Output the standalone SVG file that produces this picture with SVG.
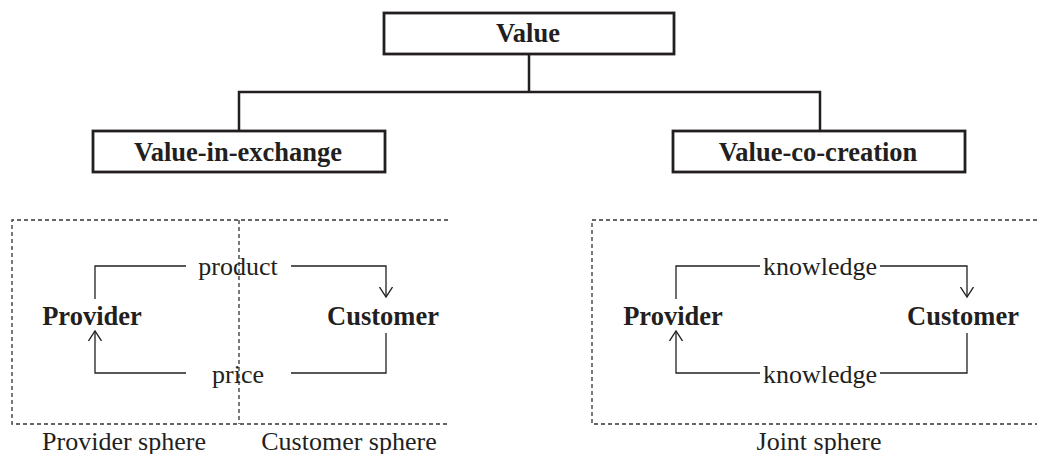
<svg xmlns="http://www.w3.org/2000/svg" width="1037" height="454" viewBox="0 0 1037 454">
<defs>
<style>
.box{fill:#fff;stroke:#231f20;stroke-width:2.8}
.tb{font-family:"Liberation Serif",serif;font-weight:bold;font-size:26.5px;fill:#231f20;text-anchor:middle}
.tr{font-family:"Liberation Serif",serif;font-size:26px;fill:#231f20;text-anchor:middle}
.tn{font-family:"Liberation Serif",serif;font-weight:bold;font-size:26.5px;fill:#231f20;text-anchor:middle}
.tree{fill:none;stroke:#231f20;stroke-width:2.5}
.flow{fill:none;stroke:#231f20;stroke-width:1.3}
.dash{fill:none;stroke:#333;stroke-width:1.3;stroke-dasharray:4 3}
</style>
<marker id="arr" viewBox="0 0 12 14" refX="10" refY="7" markerWidth="12" markerHeight="14" markerUnits="userSpaceOnUse" orient="auto">
<path d="M0,0.5 L10,7 L0,13.5" fill="none" stroke="#231f20" stroke-width="1.3"/>
</marker>
</defs>
<rect width="1037" height="454" fill="#fff"/>
<g id="connectors">
<path class="tree" d="M529,54 V92 M239,131 V92 H820 V131"/>
<path class="flow" d="M95,299 V266 H186 M291,266 H386 V297" marker-end="url(#arr)"/>
<path class="flow" d="M386,333 V373 H291 M186,373 H95 V331" marker-end="url(#arr)"/>
<path class="flow" d="M676,299 V266 H760 M880,266 H967 V297" marker-end="url(#arr)"/>
<path class="flow" d="M967,333 V373 H880 M760,373 H676 V331" marker-end="url(#arr)"/>
</g>
<g id="spheres">
<path class="dash" d="M448,220 H12 V424 H448"/>
<path class="dash" d="M239,220 V424"/>
<path class="dash" d="M1037,220 H592 V424 H1037"/>
</g>
<g id="value"><rect class="box" x="384" y="13" width="290" height="41"/><text class="tb" x="528" y="42">Value</text></g>
<g id="value-in-exchange"><rect class="box" x="93" y="131" width="292" height="41"/><text class="tb" x="238" y="161">Value-in-exchange</text></g>
<g id="value-co-creation"><rect class="box" x="673" y="131" width="292" height="41"/><text class="tb" x="818" y="161">Value-co-creation</text></g>
<g id="provider1"><text class="tn" x="92" y="325">Provider</text></g>
<g id="customer1"><text class="tn" x="383" y="325">Customer</text></g>
<g id="provider2"><text class="tn" x="673" y="325">Provider</text></g>
<g id="customer2"><text class="tn" x="963" y="325">Customer</text></g>
<g id="labels">
<text class="tr" x="238" y="275">product</text>
<text class="tr" x="238" y="383">price</text>
<text class="tr" x="820" y="275">knowledge</text>
<text class="tr" x="820" y="383">knowledge</text>
<text class="tr" x="124" y="450">Provider sphere</text>
<text class="tr" x="349" y="450">Customer sphere</text>
<text class="tr" x="819" y="450">Joint sphere</text>
</g>
</svg>
